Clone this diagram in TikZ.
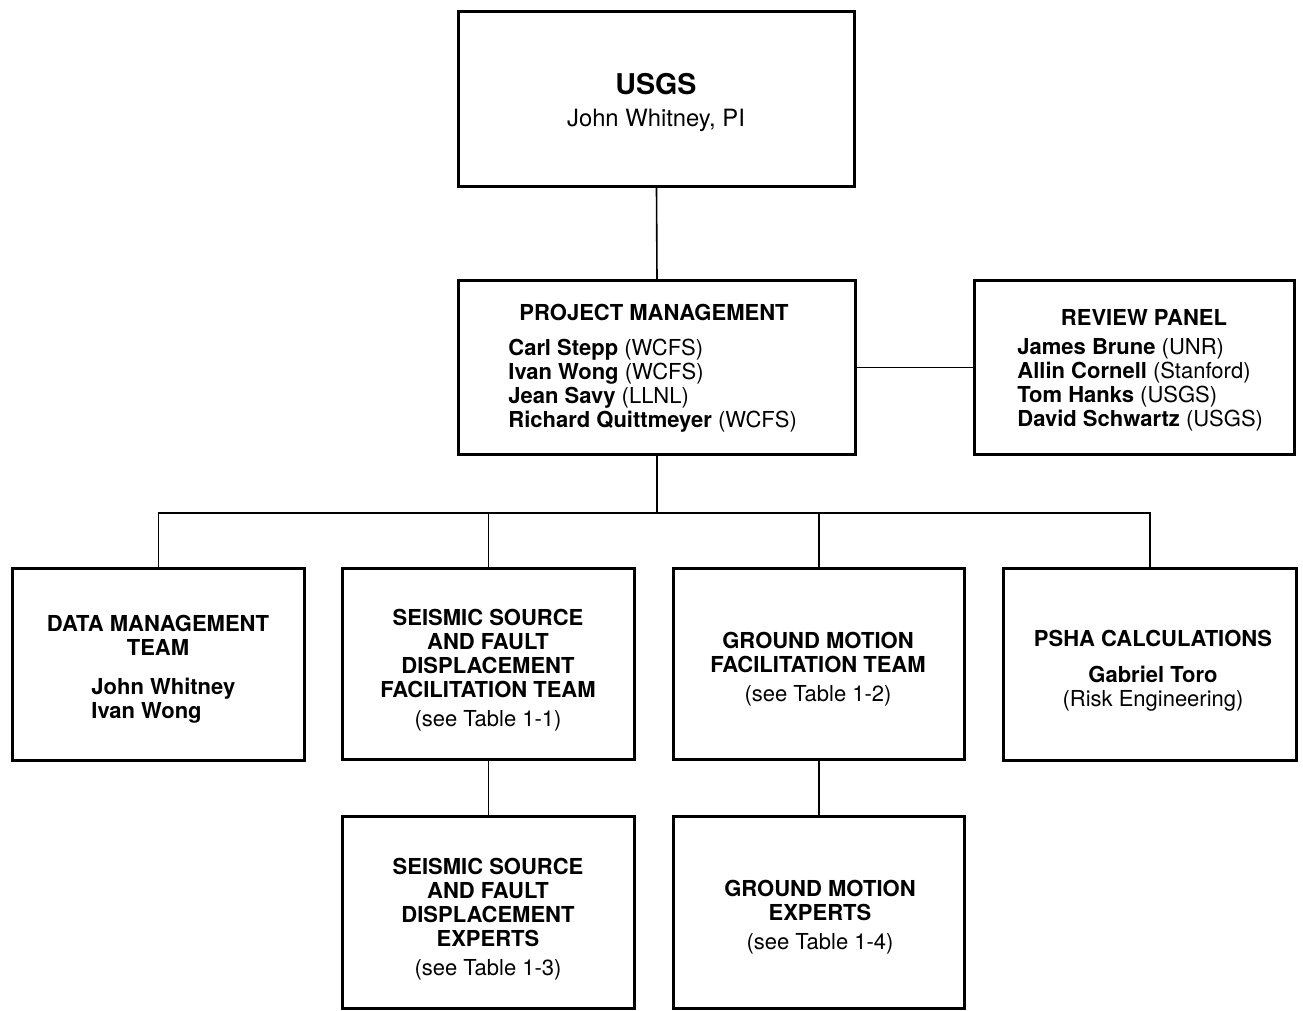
\documentclass[tikz,border=0pt]{standalone}
\usepackage{fontspec}
\setmainfont{TeX Gyre Heros}
\newcommand\mkbox[5]{\node[box, minimum width={(#4-#2-3)*0.5pt}, minimum height={(#5-#3-3)*0.5pt}] (#1) at ({(#2+#4)/2},{(#3+#5)/2}) {};}
\begin{document}
\begin{tikzpicture}[x=0.5pt,y=-0.5pt,
  box/.style={draw, line width=1.5pt, inner sep=0pt, fill=white},
  conn/.style={line width=0.8pt},
  txt/.style={inner sep=0pt, font=\fontsize{11}{12}\selectfont\bfseries, align=center, anchor=north},
  ltxt/.style={txt, align=left, anchor=north west}]
\useasboundingbox[fill=white] (0,0) rectangle (1303,1011);
% boxes
\mkbox{usgs}{457}{10}{856}{188}
\mkbox{pm}{457}{279}{857}{456}
\mkbox{rev}{973}{279}{1296}{456}
\mkbox{dm}{11}{567}{306}{762}
\mkbox{ssf}{341}{567}{636}{761}
\mkbox{gmf}{672}{567}{966}{761}
\mkbox{psha}{1002}{567}{1298}{762}
\mkbox{sse}{341}{815}{636}{1010}
\mkbox{gme}{672}{815}{966}{1010}
% connectors
\coordinate (bus) at (657,513);
\draw[conn] (usgs.south) -- (pm.north);
\draw[conn] (pm.east) -- (rev.west);
\draw[conn] (pm.south) -- (bus);
\draw[conn] (dm.north) |- (bus) -| (psha.north);
\draw[conn] (ssf.north) -- (ssf.north |- bus);
\draw[conn] (gmf.north) -- (gmf.north |- bus);
\draw[conn] (ssf.south) -- (sse.north);
\draw[conn] (gmf.south) -- (gme.north);
% texts
\node[inner sep=0pt, anchor=base, font=\fontsize{14.3}{16}\selectfont\bfseries] (usgst) at (656,94.3) {USGS};
\node[inner sep=0pt, anchor=base, font=\fontsize{11.9}{14}\selectfont] (usgsn) at (656,126.6) {John Whitney, PI};
\node[txt] (pmt) at (654,304) {PROJECT MANAGEMENT};
\node[ltxt] (pmn) at (508,339) {Carl Stepp {\mdseries (WCFS)}\\Ivan Wong {\mdseries (WCFS)}\\Jean Savy {\mdseries (LLNL)}\\Richard Quittmeyer {\mdseries (WCFS)}};
\node[txt] (revt) at (1144,309) {REVIEW PANEL};
\node[ltxt] (revn) at (1017,338) {James Brune {\mdseries (UNR)}\\Allin Cornell {\mdseries (Stanford)}\\Tom Hanks {\mdseries (USGS)}\\David Schwartz {\mdseries (USGS)}};
\node[txt] (dmt) at (158,615) {DATA MANAGEMENT\\TEAM};
\node[ltxt] (dmn) at (91,678) {John Whitney\\Ivan Wong};
\node[txt] (ssft) at (488,609) {SEISMIC SOURCE\\AND FAULT\\DISPLACEMENT\\FACILITATION TEAM\\[2.5pt]{\mdseries (see Table 1-1)}};
\node[txt] (gmft) at (818,632) {GROUND MOTION\\FACILITATION TEAM\\[2.5pt]{\mdseries (see Table 1-2)}};
\node[txt] (pshat) at (1153,630) {PSHA CALCULATIONS\\[6pt]Gabriel Toro\\{\mdseries (Risk Engineering)}};
\node[txt] (sset) at (488,858) {SEISMIC SOURCE\\AND FAULT\\DISPLACEMENT\\EXPERTS\\[2.5pt]{\mdseries (see Table 1-3)}};
\node[txt] (gmet) at (820,880) {GROUND MOTION\\EXPERTS\\[2.5pt]{\mdseries (see Table 1-4)}};
\end{tikzpicture}
\end{document}
